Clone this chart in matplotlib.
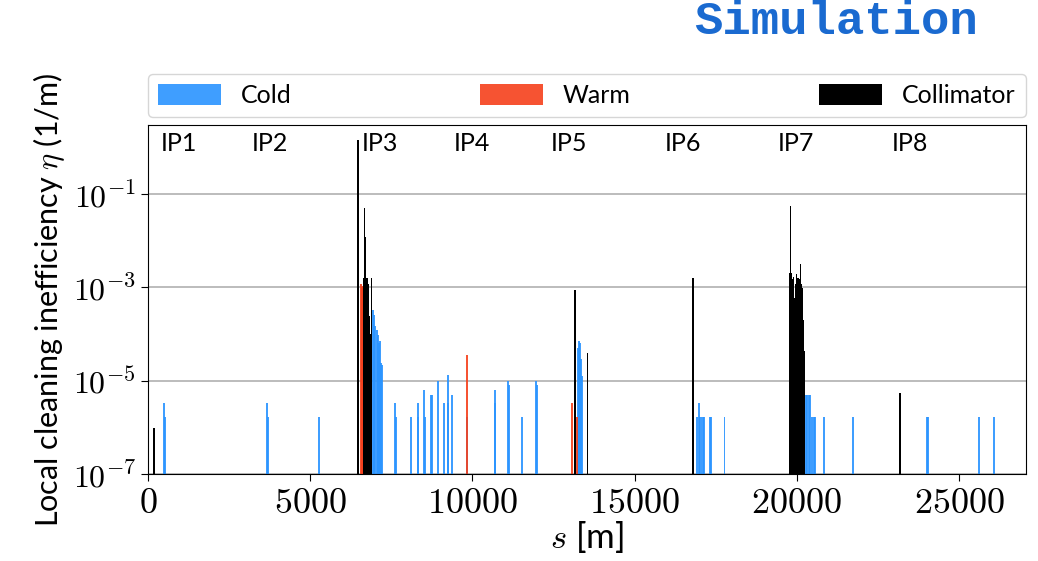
import math
import matplotlib
matplotlib.use("Agg")
import matplotlib.pyplot as plt
from matplotlib.ticker import FixedLocator, FuncFormatter
import matplotlib.transforms as mtransforms

plt.rcParams['font.family'] = ['Lato', 'DejaVu Sans']
plt.rcParams['mathtext.fontset'] = 'cm'

# Cold magnets: position s [m], local inefficiency [1/m]
cold_s = [500, 515, 3670, 3690, 5280,
          6940, 6975, 7010, 7045, 7080, 7115, 7150, 7185, 7210,
          7615, 7630, 8108, 8313, 8330, 8518, 8530, 8723, 8760, 8948, 9132,
          9237, 9250, 9369, 9822, 10692, 10705, 11110, 11140, 11532, 11954, 11990,
          13250, 13280, 13310, 13340, 13370,
          16930, 16970, 17000, 17050, 17100, 17150, 17320, 17360, 17770,
          20270, 20320, 20370, 20420, 20470, 20520, 20560, 20846, 21717,
          24010, 24040, 25615, 26086]
cold_eta = [3.3e-6, 1.7e-6, 3.3e-6, 1.7e-6, 1.7e-6,
            3.3e-4, 2.6e-4, 1.5e-4, 1.2e-4, 9.8e-5, 6.5e-5, 7e-5, 2.4e-5, 2.2e-5,
            3.3e-6, 1.7e-6, 1.7e-6, 3.3e-6, 1.7e-6, 6.5e-6, 1.7e-6, 5e-6, 5e-6, 1e-5, 3.3e-6,
            1.35e-5, 3.3e-6, 5e-6, 1.7e-6, 6.5e-6, 3.3e-6, 1e-5, 8e-6, 1.7e-6, 1e-5, 8e-6,
            5e-5, 7e-5, 6.5e-5, 3e-5, 1.3e-5,
            1.7e-6, 3.3e-6, 1.7e-6, 1.7e-6, 1.7e-6, 1.7e-6, 1.7e-6, 1.7e-6, 1.7e-6,
            5e-6, 5e-6, 5e-6, 5e-6, 1.7e-6, 1.7e-6, 1.7e-6, 1.7e-6, 1.7e-6,
            1.7e-6, 1.7e-6, 1.7e-6, 1.7e-6]

# Warm elements
warm_s = [6560, 6590, 6620, 6650, 9822, 13083, 13237, 19870, 20046]
warm_eta = [1.2e-3, 1.0e-3, 1.1e-3, 1.0e-3, 3.6e-5, 3.3e-6, 1.7e-6, 1.7e-6, 1.7e-6]

# Collimators
coll_s = [180,
          6467, 6487, 6641, 6672, 6700, 6723, 6754, 6785, 6815, 6846, 6887,
          13163, 13175, 13554, 16795,
          19780, 19800, 19841, 19870, 19903, 19935, 19960, 19985, 20010,
          20036, 20060, 20085, 20108, 20140, 20180, 20210, 20231,
          23185]
coll_eta = [1e-6,
            1.4, 0.019, 1.6e-3, 0.05, 0.012, 1.6e-3, 1.6e-3, 1.2e-3, 2.4e-4, 1e-4, 1.6e-3,
            9e-4, 2.3e-4, 4e-5, 1.6e-3,
            2e-3, 0.055, 2e-3, 1.5e-3, 1.7e-3, 6e-4, 1.2e-3, 1.9e-3, 1.5e-3,
            1.6e-3, 7e-4, 1.5e-3, 3.2e-3, 1.2e-3, 9.5e-4, 2e-4, 4.3e-5,
            5.5e-6]

ip_names = ['IP1', 'IP2', 'IP3', 'IP4', 'IP5', 'IP6', 'IP7', 'IP8']
ip_label_s = [940, 3770, 7150, 9990, 12990, 16480, 19960, 23490]

fig = plt.figure(figsize=(10.38, 5.61), dpi=100)
ax = fig.add_axes([0.1426, 0.1545, 0.8454, 0.6227])

ax.set_yscale('log')
ax.bar(cold_s, cold_eta, width=60, bottom=1e-9, color='#2a94ff', alpha=0.9, lw=0, label='Cold')
ax.bar(warm_s, warm_eta, width=60, bottom=1e-9, color='#f5401c', alpha=0.9, lw=0, label='Warm')
ax.bar(coll_s, coll_eta, width=45, bottom=1e-9, color='black', lw=0, label='Collimator')

ax.set_xlim(0, 27050)
ax.set_ylim(1e-7, 3)
ax.yaxis.set_major_locator(FixedLocator([1e-7, 1e-5, 1e-3, 1e-1]))
ax.yaxis.set_minor_locator(FixedLocator([]))
ax.yaxis.set_major_formatter(FuncFormatter(lambda v, p: r'$10^{%d}$' % round(math.log10(v))))
ax.xaxis.set_major_formatter(FuncFormatter(lambda v, p: r'$%d$' % v))
ax.grid(axis='y', color='#b0b0b0', lw=1.2)
ax.set_axisbelow(True)
ax.tick_params(axis='y', labelsize=23, direction='out', length=5)
ax.tick_params(axis='x', labelsize=26, direction='out', length=5)

trans = mtransforms.blended_transform_factory(ax.transData, ax.transAxes)
for name, s in zip(ip_names, ip_label_s):
    ax.text(s, 0.948, name, transform=trans, ha='center', va='center', fontsize=18)

ax.set_ylabel(r'Local cleaning inefficiency $\eta$ (1/m)', fontsize=22, labelpad=4)
ax.set_xlabel(r'$s$ [m]', fontsize=25, labelpad=0)

ax.legend(loc='lower left', bbox_to_anchor=(0, 1.023, 1, 0.135), mode='expand', ncol=3,
          fontsize=18, handlelength=2.5, handleheight=0.9, borderaxespad=0, frameon=True,
          edgecolor='#cccccc')

fig.text(0.942, 0.96, 'Simulation', family='Liberation Mono', fontweight='bold',
         fontsize=34, color='#1a6ad0', ha='right', va='center')

fig.savefig('out.png', dpi=100)
